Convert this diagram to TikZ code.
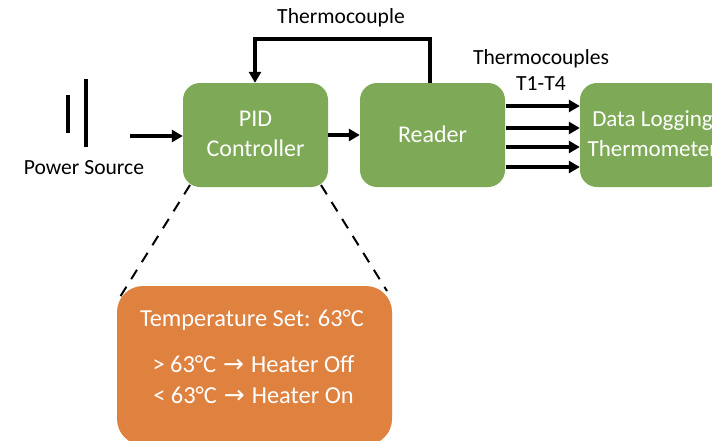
\documentclass[tikz,border=0pt]{standalone}
\usepackage{fontspec}
\setmainfont{Carlito}
\newfontfamily\arrowfont{DejaVu Sans}
\usetikzlibrary{arrows.meta}
\definecolor{boxgreen}{HTML}{7EA956}
\definecolor{boxorange}{HTML}{DF813F}
\newcommand{\upt}[1]{\raisebox{2pt}{#1}}
\newcommand{\heatarrow}{\hspace{7pt}{\arrowfont\fontsize{25}{28}\selectfont →}\hspace{7pt}}
\tikzset{
  x=1pt,y=-1pt,
  greenbox/.style={fill=boxgreen,rounded corners=17pt,minimum width=145pt,minimum height=104pt,inner sep=0pt,text=white,align=center,font=\fontsize{24}{30}\selectfont},
  orangebox/.style={fill=boxorange,rounded corners=26pt,minimum width=275pt,minimum height=159pt,inner sep=0pt,text=white,align=center},
  tempText/.style={text=white,inner sep=0pt,font=\fontsize{24.4}{28}\selectfont},
  label/.style={inner sep=0pt,align=center,font=\fontsize{21.6}{26}\selectfont},
  flow/.style={line width=3.5pt,-{Triangle[length=11pt,width=12pt]}},
  zoomline/.style={line width=2pt,dash pattern=on 11pt off 9pt},
  plate/.style={line width=4pt}
}
\begin{document}
\begin{tikzpicture}
\useasboundingbox (0,0) rectangle (712,440);
\clip (0,0) rectangle (712,440);
\coordinate (plateAt) at (86,79);
\coordinate (plateAb) at (86,147);
\coordinate (plateBt) at (68,95);
\coordinate (plateBb) at (68,133);
\coordinate (src) at (130,136);
\coordinate (fbtop) at (430,39);
\coordinate (fbleft) at (255,39);
\coordinate (tA) at (506,106);
\coordinate (tB) at (506,128);
\coordinate (tC) at (506,147);
\coordinate (tD) at (506,167);
\coordinate (zlA) at (190,185);
\coordinate (zlB) at (120,297);
\coordinate (zrA) at (321,185);
\coordinate (zrB) at (387,291);
\node[greenbox] (pid) at (255.5,135) {\upt{PID}\\\upt{Controller}};
\node[greenbox] (reader) at (432.5,135) {\upt{Reader}};
\node[greenbox,font=\fontsize{23}{30}\selectfont] (data) at (652.5,135) {\upt{Data Logging}\\\upt{Thermometer}};
\node[orangebox] (temp) at (254.5,365.5) {};
\node[tempText] (tset) at (252,320.5) {Temperature Set: 63°C};
\node[tempText] (toff) at (253.5,364.5) {> 63°C\heatarrow Heater Off};
\node[tempText] (ton) at (253.5,395) {< 63°C\heatarrow Heater On};
\node[label] (power) at (84,167.5) {Power Source};
\node[label] (tc) at (341,18) {Thermocouple};
\node[label] (tcs) at (541,70) {Thermocouples\\T1-T4};
\draw[plate] (plateAt) -- (plateAb);
\draw[plate] (plateBt) -- (plateBb);
\draw[flow] (src) -- (pid.west |- src);
\draw[flow] (pid.east) -- (reader.west);
\draw[flow,line join=miter] (reader.north -| fbtop) -- (fbtop) -- (fbleft) -- (pid.north -| fbleft);
\foreach \t in {tA,tB,tC,tD}
  \draw[flow] (\t) -- (data.west |- \t);
\draw[zoomline] (zlA) -- (zlB);
\draw[zoomline] (zrA) -- (zrB);
\end{tikzpicture}
\end{document}
